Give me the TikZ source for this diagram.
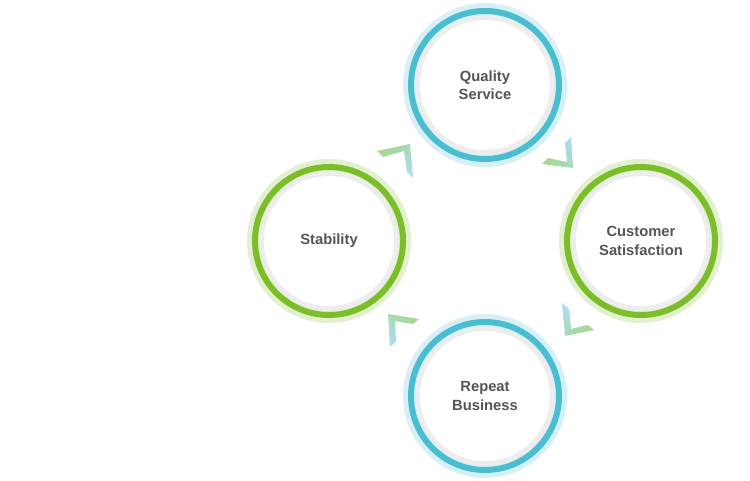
\documentclass[tikz,border=0pt]{standalone}
\usepackage{fontspec}
\setmainfont{Liberation Sans}
\usetikzlibrary{calc}
\definecolor{azzurro}{HTML}{4BBDD0}
\definecolor{verde}{HTML}{7CBD2A}
\definecolor{grigio}{HTML}{EDEDED}
\definecolor{testo}{HTML}{555555}
\definecolor{frecciaverde}{HTML}{A8D68A}
\definecolor{frecciaazzurra}{HTML}{A9DDED}

\begin{document}
\begin{tikzpicture}[
  x=0.03cm, y=-0.03cm,
  font=\fontsize{12.6}{15.8}\selectfont\bfseries,
  cerchio/.style={circle, inner sep=0pt, minimum size=4.44cm, align=center,
                  text=testo, draw=#1, line width=0.18cm,
                  preaction={draw=#1!22, line width=0.48cm},
                  path picture={
                    \fill[#1!22] (path picture bounding box.center) circle (2.22cm);
                    \fill[grigio] (path picture bounding box.center) circle (2.09cm);
                    \fill[white] (path picture bounding box.center) circle (1.95cm);}}
]

% cornice dell'immagine, fissata sulle proporzioni dell'originale
\useasboundingbox[fill=white] (0,0) rectangle (750,481);

% ---- cerchi del ciclo ----------------------------------------------
\node[cerchio=azzurro] (qualita)  at (485, 85) {Quality\\Service};
\node[cerchio=verde]   (cliente)  at (641,241) {Customer\\Satisfaction};
\node[cerchio=azzurro] (ripeti)   at (485,396) {Repeat\\Business};
\node[cerchio=verde]   (stabile)  at (329,241) {Stability};

% ---- frecce a squadra fra i cerchi ---------------------------------
% stabilita' -> qualita'
\shade[top color=frecciaverde, bottom color=frecciaazzurra, shading angle=45]
  (377,151) -- (410,144) -- (413,178) -- (407,172) -- (404,151) -- (383,157) -- cycle;
% qualita' -> cliente
\shade[top color=frecciaazzurra, bottom color=frecciaverde, shading angle=-45]
  (571,137) -- (573,168) -- (542,164) -- (548,158) -- (567,162) -- (565,143) -- cycle;
% cliente -> ripetizione
\shade[top color=frecciaazzurra, bottom color=frecciaverde, shading angle=45]
  (562,303) -- (565,336) -- (594,330) -- (588,325) -- (571,329) -- (569,309) -- cycle;
% ripetizione -> stabilita'
\shade[top color=frecciaverde, bottom color=frecciaazzurra, shading angle=-45]
  (388,314) -- (419,319) -- (413,324) -- (395,321) -- (396,341) -- (390,347) -- cycle;

\end{tikzpicture}
\end{document}
